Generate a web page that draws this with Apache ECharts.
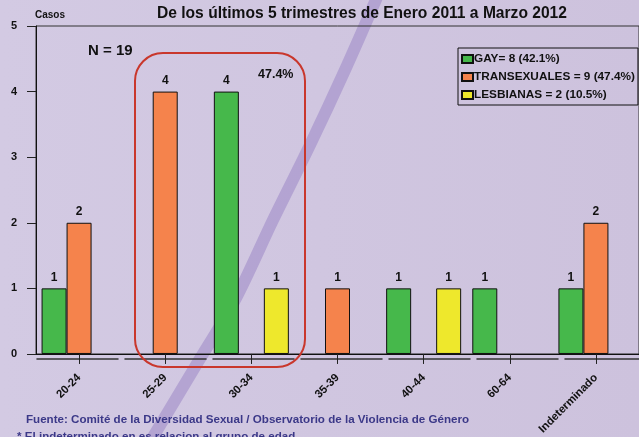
<!DOCTYPE html>
<html>
<head>
<meta charset="utf-8">
<script src="https://cdn.jsdelivr.net/npm/echarts@6/dist/echarts.min.js"></script>
<style>
html,body{margin:0;padding:0;background:#cfc5df;}
#chart{width:639px;height:437px;}
</style>
</head>
<body>
<div id="chart"></div>
<script>
var categories = ['20-24', '25-29', '30-34', '35-39', '40-44', '60-64', 'Indeterminado'];
var gayValues = [1, null, 4, null, 1, 1, 1];
var transValues = [2, 4, null, 1, null, null, 2];
var lesbValues = [null, null, 1, null, 1, null, null];
var seriesNames = ['GAY= 8 (42.1%)', 'TRANSEXUALES = 9 (47.4%)', 'LESBIANAS = 2 (10.5%)'];
var yTicks = [0, 1, 2, 3, 4, 5];

var FONT = 'Liberation Sans, Arial, sans-serif';
var chart = echarts.init(document.getElementById('chart'), null, {renderer: 'canvas'});

function barSeries(name, data, color) {
  return {
    name: name,
    type: 'bar',
    data: data,
    barWidth: 25,
    barGap: '0%',
    itemStyle: {color: color, borderColor: '#111', borderWidth: 1},
    label: {
      show: true, position: 'top', distance: 5,
      color: '#111', fontFamily: FONT, fontWeight: 'bold', fontSize: 12,
      formatter: function (p) { return p.value == null ? '' : p.value; }
    }
  };
}

var option = {
  backgroundColor: {
    type: 'linear', x: 0, y: 0, x2: 1, y2: 0,
    colorStops: [{offset: 0, color: '#d3cae3'}, {offset: 1, color: '#cdc2dd'}]
  },
  animation: false,
  textStyle: {fontFamily: FONT},
  title: {
    text: 'De los últimos 5 trimestres de Enero 2011 a Marzo 2012',
    left: 152, top: 1,
    textStyle: {fontFamily: FONT, fontWeight: 'bold', fontSize: 15.6, color: '#111'}
  },
  legend: {
    orient: 'vertical',
    left: 458, top: 48,
    padding: [5, 3, 4, 3],
    itemGap: 6,
    itemWidth: 11, itemHeight: 8,
    icon: 'rect',
    borderColor: '#111', borderWidth: 1,
    textStyle: {fontFamily: FONT, fontWeight: 'bold', fontSize: 11.8, color: '#111', padding: [0, 0, 0, -4]},
    data: seriesNames
  },
  grid: {
    left: 36, top: 26, width: 615, height: 329,
    show: true, borderColor: '#333', borderWidth: 1, backgroundColor: 'transparent'
  },
  xAxis: [{
    type: 'category',
    data: categories,
    axisLine: {lineStyle: {color: '#111', width: 1}},
    axisTick: {show: true, alignWithLabel: true, length: 10, lineStyle: {color: '#222', width: 1}},
    axisLabel: {interval: 0, rotate: 45, margin: 22, color: '#111', fontFamily: FONT, fontWeight: 'bold', fontSize: 11.3}
  }, {
    type: 'category',
    data: categories,
    position: 'bottom',
    offset: 5,
    axisLine: {show: true, lineStyle: {color: '#333', width: 1.5, type: [81, 7], dashOffset: 87}},
    axisTick: {show: false},
    axisLabel: {show: false},
    splitLine: {show: false}
  }],
  yAxis: {
    type: 'value',
    min: yTicks[0], max: yTicks[yTicks.length - 1], interval: 1,
    axisLine: {show: true, lineStyle: {color: '#111', width: 1}},
    axisTick: {show: true, length: 9, lineStyle: {color: '#222'}},
    axisLabel: {margin: 19, color: '#111', fontFamily: FONT, fontWeight: 'bold', fontSize: 11},
    splitLine: {show: false}
  },
  graphic: [
    {
      type: 'polyline', z: -10, silent: true,
      shape: {points: [[378, -5], [345, 70], [310, 145], [273, 220], [235, 300], [195, 367], [150, 442]], smooth: 0.3},
      style: {stroke: 'rgba(160,140,200,0.6)', lineWidth: 12, fill: null}
    },
    {
      type: 'rect', z: 100, silent: true,
      shape: {x: 135, y: 53, width: 170, height: 314, r: 28},
      style: {stroke: '#c9372c', lineWidth: 2, fill: null}
    },
    {
      type: 'text', z: 100, left: 88, top: 43,
      style: {text: 'N = 19', fill: '#111', font: 'bold 15px ' + FONT}
    },
    {
      type: 'text', z: 100, left: 258, top: 68,
      style: {text: '47.4%', fill: '#111', font: 'bold 12.5px ' + FONT}
    },
    {
      type: 'text', z: 100, left: 35, top: 10,
      style: {text: 'Casos', fill: '#111', font: 'bold 10px ' + FONT}
    },
    {
      type: 'text', z: 100, left: 26, top: 414,
      style: {text: 'Fuente: Comité de la Diversidad Sexual / Observatorio de la Violencia de Género', fill: '#3b3888', font: 'bold 11.6px ' + FONT}
    },
    {
      type: 'text', z: 100, left: 17, top: 431,
      style: {text: '* El indeterminado en es relacion al grupo de edad', fill: '#3b3888', font: 'bold 11.6px ' + FONT}
    }
  ],
  series: [
    barSeries(seriesNames[0], gayValues, '#46b84b'),
    barSeries(seriesNames[1], transValues, '#f5834c'),
    barSeries(seriesNames[2], lesbValues, '#eee82c')
  ]
};
chart.setOption(option);
</script>
</body>
</html>
